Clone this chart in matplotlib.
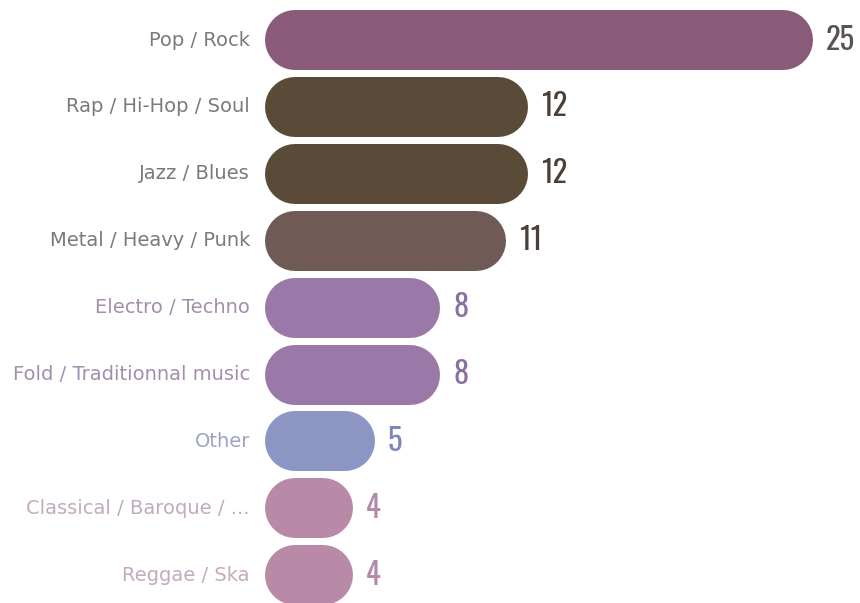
import matplotlib
matplotlib.use("Agg")
import matplotlib.pyplot as plt
from matplotlib import font_manager as fm

# data
genres = ["Pop / Rock", "Rap / Hi-Hop / Soul", "Jazz / Blues", "Metal / Heavy / Punk",
          "Electro / Techno", "Fold / Traditionnal music", "Other",
          "Classical / Baroque / ...", "Reggae / Ska"]
counts = [25, 12, 12, 11, 8, 8, 5, 4, 4]
bar_colors = ["#8a5b78", "#5a4a38", "#5a4a38", "#6f5a55", "#9a78a8",
              "#9a78a8", "#8b96c4", "#b98aa8", "#b98aa8"]
label_colors = ["#7a7a7a", "#7a7a7a", "#7a7a7a", "#7a7a7a", "#a48eae",
                "#a48eae", "#9ca3c4", "#c4aabd", "#c4aabd"]
value_colors = ["#5a5058", "#4a4038", "#4a4038", "#4a4038", "#8a70a0",
                "#8a70a0", "#7d88b8", "#b08aa8", "#b08aa8"]

# pick a condensed face for the numbers
installed = set(f.name for f in fm.fontManager.ttflist)
num_family = "DejaVu Sans"
for name in ["Oswald", "Barlow Condensed", "Archivo Narrow"]:
    if name in installed:
        num_family = name
        break

W, H = 860, 603
fig = plt.figure(figsize=(W / 100, H / 100), dpi=100)
x0_px = 265
px_per_unit = (813 - 265) / 25.0
ax = fig.add_axes([x0_px / W, 0, 1 - x0_px / W, 1])
ax.set_xlim(0, (W - x0_px) / px_per_unit)
row_px = 66.9
top_px = 40
ax.set_ylim((H - top_px) / row_px, -top_px / row_px)
ax.axis("off")

bar_h_px = 60
r = (bar_h_px / 2) / px_per_unit
lw = bar_h_px * 72 / 100

for i, (g, c) in enumerate(zip(genres, counts)):
    ax.plot([r, c - r], [i, i], color=bar_colors[i], linewidth=lw,
            solid_capstyle="round")
    ax.text(c + 0.6, i, str(c), va="center", ha="left", fontsize=22,
            fontweight="bold", color=value_colors[i], family=num_family)
    ax.text(-15 / px_per_unit, i, g, va="center", ha="right", fontsize=14,
            color=label_colors[i], family="DejaVu Sans", clip_on=False)

fig.savefig("out.png", dpi=100)
